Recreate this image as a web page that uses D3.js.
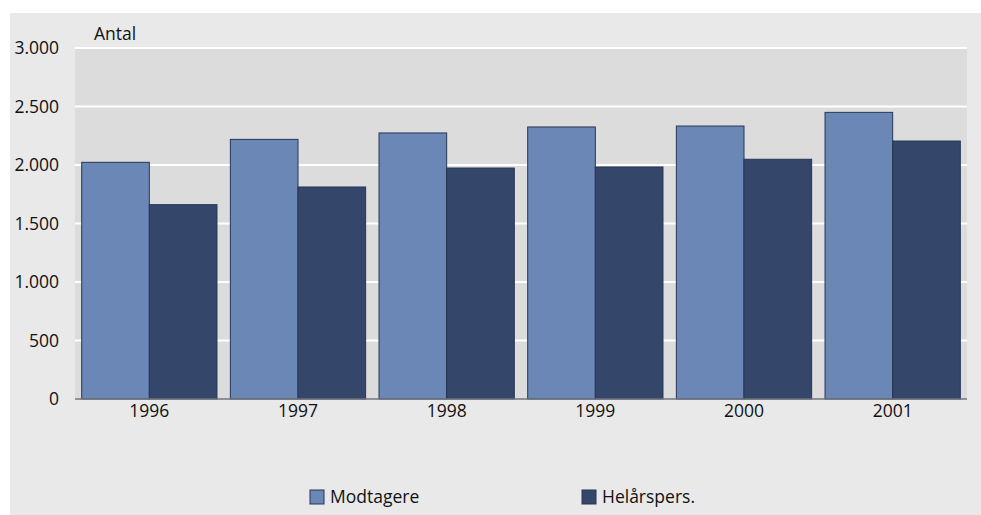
<!DOCTYPE html>
<html>
<head>
<meta charset="utf-8">
<script src="https://cdn.jsdelivr.net/npm/d3@7"></script>
<style>
  body { margin: 0; background: #ffffff; }
  text { font-family: "Open Sans", sans-serif; fill: #111111; }
</style>
</head>
<body>
<div id="chart"></div>
<script>
// data
let years = ["1996", "1997", "1998", "1999", "2000", "2001"];
let seriesNames = ["Modtagere", "Helårspers."];
let modtagere = [2023, 2219, 2274, 2325, 2333, 2450];
let helaarspers = [1661, 1812, 1974, 1983, 2049, 2205];
let yTicks = [0, 500, 1000, 1500, 2000, 2500, 3000];

let width = 981;
let height = 515;
let colors = ["#6b87b5", "#344669"];
let fontSize = 17.5;

let svg = d3.select("#chart")
    .append("svg")
    .attr("width", width)
    .attr("height", height);

// outer grey panel
svg.append("rect")
    .attr("x", 10)
    .attr("y", 13)
    .attr("width", width - 10)
    .attr("height", height - 13)
    .attr("fill", "#e9e9e9");

let plotLeft = 75, plotRight = 967, plotTop = 48, plotBottom = 399;

let xScale = d3.scaleBand()
    .domain(years)
    .range([plotLeft, plotRight])
    .paddingInner(0.09)
    .paddingOuter(0.045);

let sub = d3.scaleBand()
    .domain(seriesNames)
    .range([0, xScale.bandwidth()]);

let yScale = d3.scaleLinear()
    .domain([0, 3000])
    .range([plotBottom, plotTop]);

// plot area
svg.append("rect")
    .attr("x", plotLeft)
    .attr("y", plotTop)
    .attr("width", plotRight - plotLeft)
    .attr("height", plotBottom - plotTop)
    .attr("fill", "#dcdcdc");

/* grid lines */
svg.append("g")
    .selectAll("line")
    .data(yTicks.filter(d => d > 0))
    .join("line")
    .attr("x1", plotLeft)
    .attr("x2", plotRight)
    .attr("y1", d => yScale(d))
    .attr("y2", d => yScale(d))
    .attr("stroke", "#ffffff")
    .attr("stroke-width", 2);

/* y axis labels */
let yAxis = d3.axisLeft(yScale)
    .tickValues(yTicks)
    .tickSize(0)
    .tickPadding(16)
    .tickFormat(d => d3.format(",")(d).replace(/,/g, "."));

let yg = svg.append("g")
    .attr("transform", "translate(" + plotLeft + ",0)")
    .call(yAxis);
yg.select(".domain").remove();
yg.selectAll("text")
    .attr("font-size", fontSize)
    .style("font-family", "'Open Sans', sans-serif")
    .attr("fill", "#111111");

// bars
let rows = years.map((y, i) => ({ year: y, values: [modtagere[i], helaarspers[i]] }));

let groups = svg.append("g")
    .selectAll("g")
    .data(rows)
    .join("g")
    .attr("transform", d => "translate(" + xScale(d.year) + ",0)");

groups.selectAll("rect")
    .data(d => d.values.map((v, j) => ({ name: seriesNames[j], value: v, idx: j })))
    .join("rect")
    .attr("x", d => sub(d.name))
    .attr("y", d => yScale(d.value))
    .attr("width", sub.bandwidth())
    .attr("height", d => plotBottom - yScale(d.value))
    .attr("fill", d => colors[d.idx])
    .attr("stroke", "#263656")
    .attr("stroke-width", 1);

// baseline
svg.append("line")
    .attr("x1", plotLeft)
    .attr("x2", plotRight)
    .attr("y1", plotBottom)
    .attr("y2", plotBottom)
    .attr("stroke", "#70757f")
    .attr("stroke-width", 1.5);

/* x axis labels */
let xAxis = d3.axisBottom(xScale)
    .tickSize(0)
    .tickPadding(6);

let xg = svg.append("g")
    .attr("transform", "translate(0," + plotBottom + ")")
    .call(xAxis);
xg.select(".domain").remove();
xg.selectAll("text")
    .attr("font-size", fontSize)
    .style("font-family", "'Open Sans', sans-serif")
    .attr("fill", "#111111");

// unit label
svg.append("text")
    .attr("x", 94)
    .attr("y", 40)
    .attr("font-size", fontSize)
    .text("Antal");

// legend
let legendX = [310, 582];
let legend = svg.append("g")
    .selectAll("g")
    .data(seriesNames)
    .join("g")
    .attr("transform", (d, i) => "translate(" + legendX[i] + ",490)");

legend.append("rect")
    .attr("width", 14)
    .attr("height", 14)
    .attr("fill", (d, i) => colors[i])
    .attr("stroke", "#263656")
    .attr("stroke-width", 1);

legend.append("text")
    .attr("x", 20)
    .attr("y", 13)
    .attr("font-size", fontSize)
    .text(d => d);
</script>
</body>
</html>
